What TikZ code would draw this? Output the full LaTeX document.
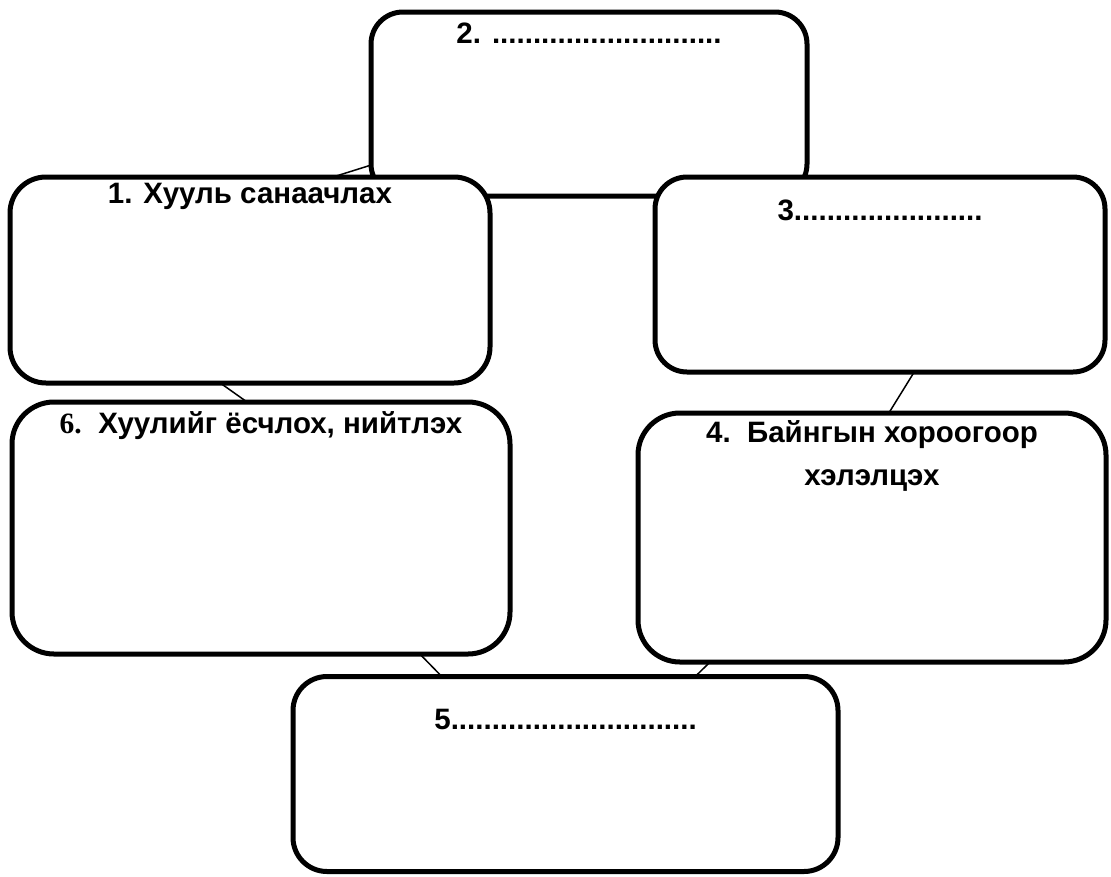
\documentclass[tikz,border=0pt]{standalone}
\usepackage{fontspec}
\setmainfont{Liberation Sans}
\newfontfamily\serifnum{Liberation Serif}
\usetikzlibrary{calc}

\begin{document}
\begin{tikzpicture}[x=1pt, y=-1pt, every node/.style={black, inner sep=0pt, outer sep=0pt},
	box/.style={draw, fill=white, line width=5pt, rounded corners=#1},
	title/.style={anchor=base, align=center, font=\fontsize{29.5}{43}\selectfont\bfseries},
	link/.style={line width=1.5pt}]
	\useasboundingbox (0,0) rectangle (1111,876);

	% boxes, back to front
	\node[box=32pt, minimum width=436pt, minimum height=184pt] (b2) at (589,104) {};
	\node[box=36pt, minimum width=480pt, minimum height=206pt] (b1) at (250,280) {};
	\node[box=32pt, minimum width=450pt, minimum height=195pt] (b3) at (880,274.5) {};
	\node[box=42pt, minimum width=498pt, minimum height=252pt] (b6) at (261,528) {};
	\node[box=42pt, minimum width=468pt, minimum height=249pt] (b4) at (872,537.5) {};
	\node[box=34pt, minimum width=545pt, minimum height=195pt] (b5) at (565.5,774) {};

	% headings
	\node[title] (t2) at (589,43) {2. ............................};
	\node[title] (t1) at (250,203) {1. Хууль санаачлах};
	\node[title] (t3) at (880,220) {3.......................};
	\node[title] (t6) at (261,433) {{\serifnum 6.}\ \ Хуулийг ёсчлох, нийтлэх};
	\node[title] (t4) at (872,485) {4.\ \ Байнгын хороогоор\\ хэлэлцэх};
	\node[title] (t5) at (565.5,729) {5..............................};

	% thin links between the boxes
	\draw[link] ($(b2.north west)!0.832!(b2.south west)$) -- ($(b1.north west)!0.673!(b1.north east)$);
	\draw[link] ($(b1.south west)!0.438!(b1.south east)$) -- ($(b6.north west)!0.472!(b6.north east)$);
	\draw[link] ($(b3.south west)!0.576!(b3.south east)$) -- ($(b4.north west)!0.536!(b4.north east)$);
	\draw[link] ($(b6.south west)!0.819!(b6.south east)$) -- ($(b5.north west)!0.273!(b5.north east)$);
	\draw[link] ($(b4.south west)!0.154!(b4.south east)$) -- ($(b5.north west)!0.738!(b5.north east)$);
\end{tikzpicture}
\end{document}
